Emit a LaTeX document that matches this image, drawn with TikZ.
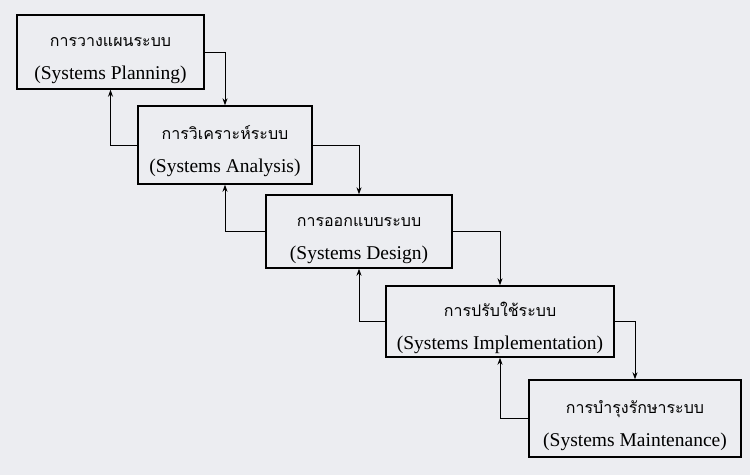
\documentclass[tikz,border=0pt]{standalone}
\usepackage{fontspec}
\setmainfont{Liberation Serif}
\newfontfamily\thaifont[Script=Thai]{Loma}
\usetikzlibrary{arrows.meta}
\definecolor{bg}{RGB}{236,237,241}
\newcommand{\thl}[1]{{\thaifont\fontsize{16}{33}\selectfont\rule{0pt}{27pt}#1}}
\begin{document}
\begin{tikzpicture}[x=1pt,y=-1pt,
  box/.style={draw=black, line width=1.4pt, rectangle, inner sep=0pt, align=center,
              font=\fontsize{19.5}{33}\selectfont},
  arr/.style={line width=0.9pt, -{Stealth[length=7pt,width=5pt]}}]
\fill[bg] (0,0) rectangle (750,475);
\useasboundingbox (0,0) rectangle (750,475);
\node[box, minimum width=187pt, minimum height=74pt] (b1) at (110.5,52)
  {\thl{การวางแผนระบบ}\\(Systems Planning)};
\node[box, minimum width=174pt, minimum height=78pt] (b2) at (225,145)
  {\thl{การวิเคราะห์ระบบ}\\(Systems Analysis)};
\node[box, minimum width=186pt, minimum height=73pt] (b3) at (359,231.5)
  {\thl{การออกแบบระบบ}\\(Systems Design)};
\node[box, minimum width=228pt, minimum height=71pt] (b4) at (500,321.5)
  {\thl{การปรับใช้ระบบ}\\(Systems Implementation)};
\node[box, minimum width=212pt, minimum height=77pt] (b5) at (635,418.5)
  {\thl{การบำรุงรักษาระบบ}\\(Systems Maintenance)};
\draw[arr] (b1.east) -| (b2.north);
\draw[arr] (b2.west) -| (b1.south);
\draw[arr] (b2.east) -| (b3.north);
\draw[arr] (b3.west) -| (b2.south);
\draw[arr] (b3.east) -| (b4.north);
\draw[arr] (b4.west) -| (b3.south);
\draw[arr] (b4.east) -| (b5.north);
\draw[arr] (b5.west) -| (b4.south);
\end{tikzpicture}
\end{document}
